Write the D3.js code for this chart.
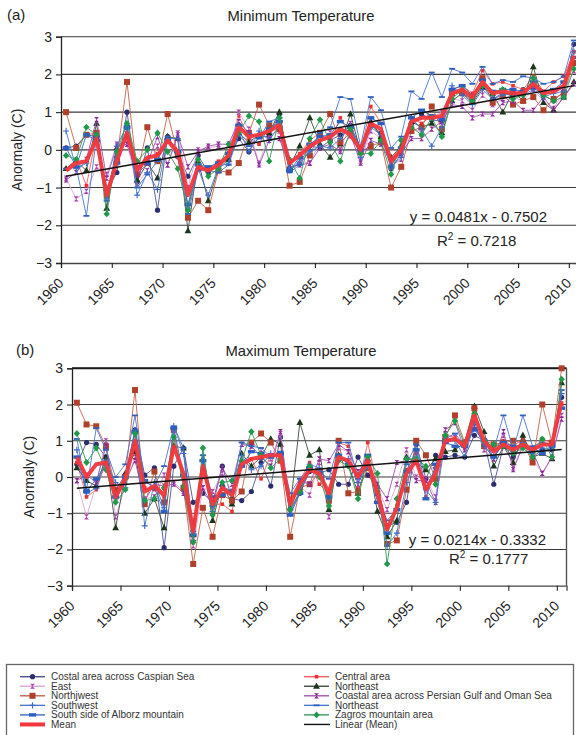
<!DOCTYPE html>
<html><head><meta charset="utf-8">
<script src="https://cdn.jsdelivr.net/npm/d3@7"></script>
<style>body{margin:0;background:#fff}svg{display:block;font-family:"Liberation Sans",Arial,Helvetica,sans-serif}</style>
</head><body><svg id="c" width="576" height="735"></svg>
<script>
// ---------- DATA ----------
const years = d3.range(1960, 2011);
const yTicks = [-3, -2, -1, 0, 1, 2, 3];
const xTicks = [1960, 1965, 1970, 1975, 1980, 1985, 1990, 1995, 2000, 2005, 2010];
const seriesNames = ["Costal area across Caspian Sea", "Central area", "East", "Northeast", "Northjwest",
  "Coastal area across Persian Gulf and Oman Sea", "Southwest", "Northeast", "South side of Alborz mountain", "Zagros mountain area"];

// Minimum temperature anomalies (C), 1960-2010
const minCaspian = [0.05,0.1,0.4,0.35,-1.1,-0.6,1.0,-0.85,0.05,-1.6,0.35,-0.1,-0.7,-0.15,-0.6,-0.35,-0.25,0.3,-0.05,0.35,0.35,0.95,-0.55,-0.35,0.1,0.05,0.25,0.4,0.65,0.05,0.65,0.45,-0.5,-0.1,0.6,0.95,0.8,0.75,1.55,1.5,1.35,1.7,1.35,1.5,1.45,1.6,1.65,1.45,1.3,1.55,2.8];
const minCentral = [-0.5,-0.25,-0.95,0.4,-1.2,-0.15,0.3,-0.45,-0.3,-0.1,0.2,-0.2,-1.5,-0.5,-0.5,-0.3,-0.2,0.9,0.3,0.15,0.6,0.7,-0.3,-0.1,0.25,0.45,0.2,0.85,0.35,-0.05,1.15,0.7,-0.4,0.05,0.85,0.7,0.9,0.85,1.6,1.7,1.5,2.1,1.75,1.8,1.7,1.6,1.95,1.55,1.8,1.95,2.6];
const minEast = [-0.75,-1.3,-1.1,-0.45,-0.65,0.15,0.15,-0.9,-0.55,0.1,-0.4,0.45,-1.0,0.0,0.05,0.1,-0.1,1.0,0.55,-0.35,0.4,0.5,-0.5,-0.3,-0.35,0.2,0.45,0.0,0.7,-0.3,0.5,0.3,-0.45,-0.25,0.6,0.45,0.85,1.0,1.35,1.3,1.05,1.45,1.2,1.35,1.4,1.3,1.6,1.3,1.1,1.55,2.1];
const minNortheast = [-0.5,-0.3,-0.55,0.7,-1.55,0.05,0.35,-0.8,-0.35,-0.75,0.35,0.3,-2.15,-0.3,-1.35,-0.5,-0.25,0.45,0.2,0.4,0.45,1.0,-0.45,0.1,0.85,0.15,-0.2,0.15,0.95,-0.05,0.75,0.35,-0.2,0.1,0.75,0.6,0.7,0.45,1.3,1.5,1.25,1.65,1.5,1.0,1.55,1.3,2.2,1.25,1.05,1.4,1.8];
const minNorthjwest = [1.0,0.05,0.4,0.45,-1.2,-0.25,1.8,-0.65,0.6,-0.3,0.95,-0.1,-1.8,-1.35,-1.6,-0.55,-0.6,-0.35,0.45,1.2,0.65,0.55,-0.95,-0.85,-0.15,0.45,0.95,0.2,0.45,-0.05,0.1,0.2,-1.0,-0.45,0.5,0.6,1.15,0.55,1.5,1.5,1.3,1.9,1.25,1.45,1.2,1.3,1.4,1.05,1.35,1.5,2.3];
const minCoastal = [-0.8,-0.6,-0.25,0.8,-0.75,0.1,0.15,-0.65,-0.35,0.35,-0.4,0.4,-0.45,-0.05,0.1,0.15,0.15,0.75,0.45,-0.4,0.25,0.3,-0.45,-0.4,-0.35,0.05,0.15,-0.05,0.4,-0.35,0.25,0.15,-0.35,-0.1,0.3,0.3,0.55,0.75,1.2,1.15,0.85,0.95,0.95,1.25,1.3,1.05,1.05,1.4,1.05,1.4,1.75];
const minSouthwest = [0.5,-0.5,-0.35,0.35,-1.3,0.1,0.65,-1.2,-0.6,-1.05,0.3,0.3,-1.55,-0.5,-1.2,-0.45,-0.35,0.55,-0.05,0.5,0.25,0.65,-0.5,-0.35,-0.05,0.1,0.05,0.3,0.6,-0.2,0.6,0.4,-0.45,-0.2,0.85,0.55,0.1,0.6,1.7,1.45,1.2,1.6,1.35,1.45,1.5,1.45,1.6,1.4,1.5,1.55,2.6];
const minNortheast2 = [-0.5,-0.45,-1.75,0.35,-1.35,-0.2,0.55,-1.0,-0.65,-0.3,0.35,-0.2,-1.7,-0.55,-0.55,-0.6,-0.4,0.4,0.1,0.3,0.75,0.85,-0.6,-0.4,0.0,0.45,0.6,1.4,1.35,0.1,1.4,1.05,0.05,0.35,1.55,1.35,2.05,1.4,2.15,2.05,1.75,2.2,1.75,1.85,1.8,1.95,1.9,1.75,1.8,1.95,2.9];
const minAlborz = [0.05,-0.45,0.4,0.25,-1.05,-0.35,0.6,-0.45,-0.35,-0.25,0.25,-0.05,-1.45,-0.4,-0.45,-0.35,-0.1,0.65,0.4,0.35,0.55,0.75,-0.55,-0.2,0.15,0.35,0.4,0.75,0.6,0.0,0.85,0.7,-0.45,0.05,0.85,1.05,0.9,0.8,1.6,1.7,1.45,1.85,1.55,1.6,1.6,1.55,1.8,1.55,1.6,1.8,2.45];
const minZagros = [-0.15,-0.25,0.6,0.4,-1.7,-0.05,0.7,-0.3,0.0,0.45,-0.05,-0.5,-1.6,-0.25,-0.7,-0.5,0.15,0.45,0.9,0.75,-0.3,0.85,-0.25,-0.75,0.3,0.8,0.2,-0.3,0.55,-0.1,-0.1,0.25,-0.65,0.25,0.6,0.4,0.85,0.35,1.35,1.6,1.3,1.7,1.5,1.6,1.35,1.45,1.9,1.45,1.3,1.4,2.15];
const minMean = [-0.55,-0.35,-0.3,0.3,-1.2,-0.3,0.45,-0.55,-0.2,-0.15,0.25,-0.05,-1.2,-0.45,-0.55,-0.4,-0.15,0.6,0.35,0.4,0.5,0.65,-0.35,-0.15,0.1,0.25,0.35,0.55,0.4,0.0,0.7,0.55,-0.3,0.0,0.75,0.85,0.85,0.9,1.5,1.6,1.4,1.8,1.5,1.55,1.5,1.5,1.75,1.5,1.55,1.7,2.5];
const minTrend = [0.0481, -0.7502];
const minR2 = "0.7218";

// Maximum temperature anomalies (C), 1960-2010
const maxCaspian = [0.35,0.95,0.9,0.55,-0.35,0.05,1.3,0.05,0.25,-1.95,0.3,0.8,-0.7,-0.45,-0.7,0.3,-0.6,-0.65,-0.4,0.4,-0.25,1.1,-0.9,-0.45,0.15,0.1,0.2,-0.2,-0.2,0.55,0.05,-0.3,-1.35,-1.25,-0.7,0.9,-0.05,0.6,0.55,0.6,0.55,1.15,1.0,-0.2,0.85,0.55,0.95,0.55,0.75,0.75,2.2];
const maxCentral = [0.4,-0.55,-0.35,0.4,-0.5,-0.05,0.9,-0.3,-0.35,-0.55,1.05,0.0,-1.75,0.2,-0.75,-0.75,-0.95,0.3,0.5,-0.05,0.6,0.6,-0.6,-0.1,0.4,-0.2,-0.45,0.95,0.85,-0.3,0.95,-0.25,-1.35,-0.8,0.2,0.65,-0.55,0.25,1.15,1.1,0.8,1.85,0.95,0.8,1.0,0.85,1.05,0.75,1.05,0.95,2.0];
const maxEast = [-0.1,-1.1,-0.2,1.0,-1.1,-0.25,0.55,-0.6,-0.55,0.05,-0.15,-0.4,-1.9,-0.3,-0.4,0.1,-0.4,0.9,0.95,0.75,0.5,1.2,-0.75,-0.25,-0.5,0.4,-1.1,0.8,0.7,-0.2,0.55,-0.3,-0.9,-0.2,0.75,0.0,-0.05,-0.55,1.2,1.1,0.8,1.5,0.75,0.5,1.15,0.25,0.9,0.5,0.1,0.55,1.7];
const maxNortheast = [0.25,-0.1,-0.25,0.55,-1.4,0.1,0.7,-1.0,-0.6,-1.4,0.85,0.8,-1.6,0.5,-1.2,-0.2,-0.75,0.65,0.3,0.55,1.05,0.9,-0.85,1.5,0.6,0.75,-0.9,0.6,0.35,-0.45,0.5,-0.95,-1.65,-1.2,0.55,0.4,0.2,0.5,0.7,0.75,0.95,1.95,1.25,0.3,0.85,0.4,1.15,0.55,0.65,0.5,2.6];
const maxNorthjwest = [2.05,1.45,1.4,0.85,-0.35,0.0,2.4,-0.75,0.15,-0.7,1.3,-0.3,-2.4,-0.85,-1.65,-0.5,-0.65,-0.4,0.95,1.2,0.95,0.45,-1.65,-0.3,-0.2,0.15,-0.65,1.0,-0.45,-0.4,0.25,-0.45,-1.85,-1.75,-0.35,1.0,0.6,-0.05,1.1,1.7,0.95,1.9,0.85,0.9,0.95,1.0,0.95,0.4,2.0,0.95,3.0];
const maxCoastal = [-0.1,0.05,-0.15,0.85,-0.65,-0.1,0.45,-0.65,-0.2,-0.25,-0.2,-0.45,-1.25,-0.3,-0.8,0.25,-0.2,0.9,0.85,0.55,0.3,1.25,-0.95,-0.1,-0.2,0.5,0.45,0.9,0.7,0.15,0.45,-0.2,-0.6,0.4,0.45,-0.1,-0.1,-0.7,1.3,1.5,0.75,1.4,0.9,0.5,1.25,0.2,0.85,0.7,0.1,0.55,1.6];
const maxSouthwest = [0.75,-0.45,-0.3,0.45,-0.15,-0.3,1.3,-1.35,-0.15,-0.85,1.4,0.65,-1.75,0.6,-0.95,-0.25,-0.4,0.6,0.2,0.3,0.65,0.6,-1.0,-0.4,0.35,0.25,-0.6,0.45,0.5,-0.15,0.3,-0.5,-1.9,-1.55,-0.15,0.55,-0.35,-0.7,1.0,1.0,0.55,1.5,0.85,0.55,0.9,0.7,0.95,0.65,0.8,0.75,2.3];
const maxNortheast2 = [1.05,-0.35,1.35,0.75,0.0,0.35,1.7,-0.15,-0.25,0.3,1.4,0.8,-1.5,0.6,-0.8,-0.35,-0.4,0.95,0.85,0.8,0.55,0.7,-0.45,-0.05,0.25,0.15,-0.05,0.95,0.95,-0.05,0.3,-0.5,-1.2,-0.9,0.35,0.9,-0.3,0.25,1.05,1.2,0.85,1.35,1.05,0.75,1.7,0.75,1.7,0.85,0.95,0.9,2.4];
const maxAlborz = [0.55,-0.4,-0.05,0.35,-0.55,0.0,1.25,-0.1,-0.3,-0.95,1.35,0.05,-1.6,0.45,-0.55,-0.5,-0.4,0.3,0.7,0.65,0.55,0.65,-1.05,-0.45,0.25,0.1,-0.55,0.6,0.35,0.05,0.6,-0.7,-1.55,-0.9,0.15,0.75,-0.6,0.35,0.95,0.85,0.85,1.3,1.0,0.55,0.95,0.85,0.85,0.8,0.65,0.85,1.9];
const maxZagros = [1.2,0.4,0.8,0.2,-0.7,-0.35,1.2,-0.65,-0.6,-0.3,1.1,-0.25,-1.8,0.8,-1.05,-0.15,-0.1,0.45,1.25,0.6,0.25,0.5,-0.9,-0.4,0.3,0.0,-0.8,0.45,0.3,-0.6,0.55,0.1,-2.4,-0.6,0.5,0.5,0.3,-0.2,1.15,1.55,0.9,1.75,1.0,0.9,0.85,0.65,0.8,0.55,1.05,0.55,2.7];
const maxMean = [0.55,0.0,0.35,0.4,-0.55,-0.05,1.0,-0.4,-0.25,-0.5,0.85,0.1,-1.5,0.3,-0.75,-0.3,-0.5,0.35,0.5,0.55,0.6,0.6,-0.75,-0.2,0.2,0.1,-0.45,0.55,0.45,0.0,0.45,-0.45,-1.45,-0.85,0.1,0.45,-0.35,0.1,1.0,1.05,0.85,1.7,1.0,0.7,0.9,0.75,0.9,0.75,0.9,0.9,2.1];
const maxTrend = [0.0214, -0.3332];
const maxR2 = "0.1777";

// ---------- STYLES ----------
const styles = [
  {line:"#4d5290", fill:"#2b2e6e", shape:"circle"},
  {line:"#f06060", fill:"#f03030", shape:"sq"},
  {line:"#dba6d8", fill:"#b040b0", shape:"hour"},
  {line:"#3f4d3f", fill:"#1c361c", shape:"tri"},
  {line:"#c0654c", fill:"#b0402a", shape:"bigsq"},
  {line:"#a052b0", fill:"#8a2a9a", shape:"hour"},
  {line:"#4a78cc", fill:"#3a6ac8", shape:"plus"},
  {line:"#4a78cc", fill:"#2f62c0", shape:"dash"},
  {line:"#3a6cc8", fill:"#2a5fc0", shape:"rect"},
  {line:"#3a9a5a", fill:"#1f9a4a", shape:"diam"}
];
const shapes = {
  circle:"M-2.6,0a2.6,2.6 0 1,0 5.2,0a2.6,2.6 0 1,0 -5.2,0Z",
  sq:"M-1.8,-1.8h3.6v3.6h-3.6Z",
  hour:"M-2.4,-2.6H2.4L0,0ZM-2.4,2.6H2.4L0,0Z",
  tri:"M0,-3.8L3.4,2.4H-3.4Z",
  bigsq:"M-3,-3h6v6h-6Z",
  plus:"M-3,0H3M0,-3.2V3.2",
  dash:"M-3,-0.9h6v1.8h-6Z",
  rect:"M-3.5,-1.7h7v3.4h-7Z",
  diam:"M0,-3.4L3.2,0L0,3.4L-3.2,0Z"
};

const svg = d3.select("#c");
const FONT = "Liberation Sans, Arial, sans-serif";

function drawPanel(p) {
  const x = d3.scaleLinear().domain([1960, 2011]).range([p.left, p.right]);
  const y = d3.scaleLinear().domain([-3, 3]).range([p.bottom, p.top]);
  const g = svg.append("g");
  const gridRight = Math.min(p.right, 576);
  g.selectAll(".grid").data(yTicks.filter(v => v > -3)).enter().append("line")
    .attr("x1", p.left).attr("x2", gridRight)
    .attr("y1", d => y(d)).attr("y2", d => y(d))
    .attr("stroke", "#3a3a3a").attr("stroke-width", 1.1);
  if (p.frame) {
    g.append("line").attr("x1", p.left).attr("x2", p.right).attr("y1", y(3)).attr("y2", y(3))
      .attr("stroke", "#1a1a1a").attr("stroke-width", 2);
    g.append("line").attr("x1", p.right).attr("x2", p.right).attr("y1", y(3)).attr("y2", y(-3))
      .attr("stroke", "#555").attr("stroke-width", 1.4);
  }
  const ya = g.append("g").attr("transform", `translate(${p.left},0)`)
    .call(d3.axisLeft(y).tickValues(yTicks).tickSize(5).tickPadding(4).tickFormat(d3.format("d")));
  ya.select(".domain").attr("stroke", "#222").attr("stroke-width", 1.3);
  ya.selectAll(".tick line").attr("stroke", "#222").attr("stroke-width", 1.1);
  ya.selectAll("text").attr("font-size", 14).attr("fill", "#222").attr("font-family", FONT);
  const xa = g.append("g").attr("transform", `translate(0,${p.bottom})`)
    .call(d3.axisBottom(x).tickValues(xTicks).tickSize(5).tickFormat(d3.format("d")));
  xa.select(".domain").attr("stroke", "#444").attr("stroke-width", 1.3);
  xa.selectAll(".tick line").attr("stroke", "#222").attr("stroke-width", 1.1);
  xa.selectAll("text").attr("font-size", 14).attr("fill", "#222").attr("font-family", FONT)
    .attr("text-anchor", "end").attr("y", 0).attr("dy", 0)
    .attr("transform", "translate(3,21) rotate(-45)");
  const line = d3.line().x((d, i) => x(years[i] + 0.5)).y(d => y(d));
  p.series.forEach((arr, si) => {
    const st = styles[si];
    g.append("path").attr("d", line(arr)).attr("fill", "none")
      .attr("stroke", st.line).attr("stroke-width", 1).attr("stroke-opacity", 0.9);
    g.selectAll(null).data(arr).enter().append("path")
      .attr("d", shapes[st.shape])
      .attr("transform", (d, i) => `translate(${x(years[i] + 0.5)},${y(d)})`)
      .attr("fill", st.shape === "plus" ? "none" : st.fill)
      .attr("stroke", st.shape === "plus" ? st.fill : "none").attr("stroke-width", 1.1);
  });
  g.append("path").attr("d", line(p.mean)).attr("fill", "none")
    .attr("stroke", "#f2383c").attr("stroke-width", 4).attr("stroke-linejoin", "round").attr("stroke-opacity", 0.95);
  const tx = [1, years.length];
  g.append("line")
    .attr("x1", x(years[0] + 0.5)).attr("y1", y(p.trend[0] * tx[0] + p.trend[1]))
    .attr("x2", x(years[years.length - 1] + 0.5)).attr("y2", y(p.trend[0] * tx[1] + p.trend[1]))
    .attr("stroke", "#111").attr("stroke-width", 1.5);
  svg.append("text").attr("x", p.tagX).attr("y", p.tagY).attr("font-size", 15).attr("fill", "#222").text(p.tag);
  svg.append("text").attr("x", 301).attr("y", p.tagY + 0.5).attr("font-size", 14.8).attr("fill", "#222")
    .attr("text-anchor", "middle").text(p.title);
  svg.append("text").attr("transform", `translate(${p.ylabX},${(p.top + p.bottom) / 2}) rotate(-90)`)
    .attr("text-anchor", "middle").attr("font-size", 14).attr("fill", "#222").text("Anormaly (C)");
  const a = p.trend[0].toFixed(4), b = Math.abs(p.trend[1]).toFixed(4);
  svg.append("text").attr("x", p.eqX).attr("y", p.eqY).attr("font-size", 15).attr("fill", "#222")
    .attr("text-anchor", "end").text(`y = ${a}x - ${b}`);
  const r = svg.append("text").attr("x", p.r2X).attr("y", p.r2Y).attr("font-size", 15).attr("fill", "#222");
  r.append("tspan").text("R");
  r.append("tspan").attr("font-size", 10).attr("dy", -6).text("2");
  r.append("tspan").attr("dy", 6).text(" = " + p.r2);
}

drawPanel({left:61, right:579, top:36.7, bottom:263, frame:false,
  series:[minCaspian,minCentral,minEast,minNortheast,minNorthjwest,minCoastal,minSouthwest,minNortheast2,minAlborz,minZagros],
  mean:minMean, trend:minTrend, r2:minR2, tag:"(a)", tagX:7, tagY:20, title:"Minimum Temperature", ylabX:22,
  eqX:547, eqY:222, r2X:437, r2Y:246});
drawPanel({left:72, right:566.5, top:368.3, bottom:585.7, frame:true,
  series:[maxCaspian,maxCentral,maxEast,maxNortheast,maxNorthjwest,maxCoastal,maxSouthwest,maxNortheast2,maxAlborz,maxZagros],
  mean:maxMean, trend:maxTrend, r2:maxR2, tag:"(b)", tagX:16, tagY:355, title:"Maximum Temperature", ylabX:34,
  eqX:546, eqY:545, r2X:449, r2Y:564});

// ---------- LEGEND ----------
const lg = svg.append("g");
lg.append("rect").attr("x", 6.5).attr("y", 664.5).attr("width", 567).attr("height", 90)
  .attr("fill", "none").attr("stroke", "#666").attr("stroke-width", 1.3);
const legendItems = seriesNames.map((n, i) => ({name:n, st:styles[i]}))
  .concat([{name:"Mean", mean:true}, {name:"Linear (Mean)", lin:true}]);
legendItems.forEach((it, i) => {
  const col = i % 2, row = Math.floor(i / 2);
  const x0 = col === 0 ? 20 : 304, yy = 676.7 + row * 9.55;
  const gi = lg.append("g");
  if (it.mean) {
    gi.append("line").attr("x1", x0).attr("x2", x0 + 25).attr("y1", yy).attr("y2", yy)
      .attr("stroke", "#f2383c").attr("stroke-width", 4);
  } else if (it.lin) {
    gi.append("line").attr("x1", x0).attr("x2", x0 + 26).attr("y1", yy).attr("y2", yy)
      .attr("stroke", "#111").attr("stroke-width", 1.4);
  } else {
    gi.append("line").attr("x1", x0).attr("x2", x0 + 25).attr("y1", yy).attr("y2", yy)
      .attr("stroke", it.st.line).attr("stroke-width", 1.4);
    gi.append("path").attr("d", shapes[it.st.shape]).attr("transform", `translate(${x0 + 12.5},${yy})`)
      .attr("fill", it.st.shape === "plus" ? "none" : it.st.fill)
      .attr("stroke", it.st.shape === "plus" ? it.st.fill : "none").attr("stroke-width", 1.1);
  }
  gi.append("text").attr("x", col === 0 ? 51 : 335).attr("y", yy).attr("dy", "0.35em")
    .attr("font-size", 10).attr("fill", "#333").text(it.name);
});
</script></body></html>
